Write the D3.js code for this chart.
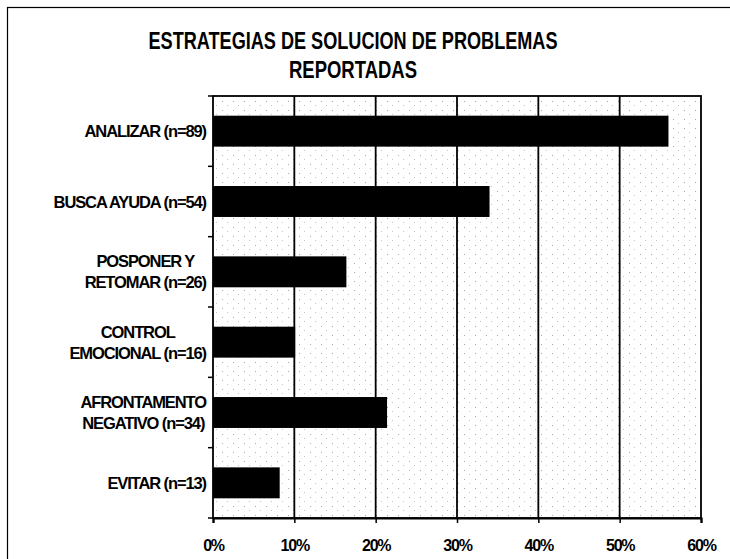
<!DOCTYPE html>
<html>
<head>
<meta charset="utf-8">
<script src="https://cdn.jsdelivr.net/npm/d3@7"></script>
<style>
  body { margin: 0; background: #fff; }
  svg text { font-family: "Liberation Sans", Arial, sans-serif; font-weight: bold; fill: #000; }
</style>
</head>
<body>
<svg id="chart"></svg>
<script>
var width = 730;
var height = 559;

// data (percent of respondents, n = 159)
var categories = [
  ["ANALIZAR (n=89)"],
  ["BUSCA AYUDA (n=54)"],
  ["POSPONER Y", "RETOMAR (n=26)"],
  ["CONTROL", "EMOCIONAL (n=16)"],
  ["AFRONTAMENTO", "NEGATIVO (n=34)"],
  ["EVITAR (n=13)"]
];
var values = [56.0, 34.0, 16.4, 10.1, 21.4, 8.2];
var xTicks = [0, 10, 20, 30, 40, 50, 60];
var titleLines = ["ESTRATEGIAS DE SOLUCION DE PROBLEMAS", "REPORTADAS"];
var titleWidths = [409, 128];

var margin = { top: 96, right: 29, bottom: 41, left: 213 };

var svg = d3.select("#chart")
  .attr("width", width)
  .attr("height", height);

// sparse dotted background like the scanned halftone
var defs = svg.append("defs");
var pat = defs.append("pattern")
  .attr("id", "dots")
  .attr("patternUnits", "userSpaceOnUse")
  .attr("width", 11)
  .attr("height", 9);
pat.append("rect").attr("width", 11).attr("height", 9).attr("fill", "#fff");
pat.append("rect").attr("x", 2).attr("y", 2).attr("width", 1).attr("height", 1).attr("fill", "#a8a8a8");
pat.append("rect").attr("x", 7).attr("y", 6).attr("width", 1).attr("height", 1).attr("fill", "#c4c4c4");

// chart frame (only top & left visible in the scan)
svg.append("rect")
  .attr("x", 7.5).attr("y", 7.5)
  .attr("width", width + 20).attr("height", height + 20)
  .attr("fill", "none")
  .attr("stroke", "#000")
  .attr("stroke-width", 1.2);

svg.append("g").selectAll("text")
  .data(titleLines)
  .enter().append("text")
  .attr("x", 353)
  .attr("y", function (d, i) { return 49 + i * 29; })
  .attr("text-anchor", "middle")
  .attr("font-size", 23)
  .attr("textLength", function (d, i) { return titleWidths[i]; })
  .attr("lengthAdjust", "spacingAndGlyphs")
  .text(function (d) { return d; });

var x = d3.scaleLinear()
  .domain([0, 60])
  .range([margin.left, width - margin.right]);

var y = d3.scaleBand()
  .domain(d3.range(categories.length))
  .range([margin.top, height - margin.bottom])
  .paddingInner(0.56)
  .paddingOuter(0.28);

var plotTop = margin.top, plotBottom = height - margin.bottom;

svg.append("rect")
  .attr("x", x(0)).attr("y", plotTop)
  .attr("width", x(60) - x(0)).attr("height", plotBottom - plotTop)
  .attr("fill", "url(#dots)");

// gridlines
svg.append("g")
  .selectAll("line")
  .data(xTicks.slice(1, -1))
  .enter().append("line")
  .attr("x1", function (d) { return x(d); })
  .attr("x2", function (d) { return x(d); })
  .attr("y1", plotTop)
  .attr("y2", plotBottom)
  .attr("stroke", "#000")
  .attr("stroke-width", 1.8);

// bars
svg.append("g")
  .selectAll("rect")
  .data(values)
  .enter().append("rect")
  .attr("x", x(0))
  .attr("y", function (d, i) { return y(i); })
  .attr("width", function (d) { return x(d) - x(0); })
  .attr("height", y.bandwidth())
  .attr("fill", "#000");

// plot border
svg.append("rect")
  .attr("x", x(0)).attr("y", plotTop)
  .attr("width", x(60) - x(0)).attr("height", plotBottom - plotTop)
  .attr("fill", "none")
  .attr("stroke", "#000")
  .attr("stroke-width", 1.8);

// x axis
var xAxis = d3.axisBottom(x)
  .tickValues(xTicks)
  .tickSize(5)
  .tickPadding(17)
  .tickFormat(function (d) { return d + "%"; });

var gx = svg.append("g")
  .attr("transform", "translate(0," + plotBottom + ")")
  .call(xAxis);
gx.select(".domain").attr("stroke-width", 2.2);
gx.selectAll(".tick line").attr("stroke-width", 1.5);
gx.selectAll(".tick text")
  .attr("font-size", 16)
  .attr("letter-spacing", -1.2)
  .attr("font-family", "Liberation Sans, Arial, sans-serif")
  .attr("font-weight", "bold");

// y ticks at the band boundaries
var boundaries = d3.range(categories.length + 1).map(function (i) {
  return plotTop + i * (plotBottom - plotTop) / categories.length;
});
svg.append("g")
  .selectAll("line")
  .data(boundaries)
  .enter().append("line")
  .attr("x1", x(0) - 5)
  .attr("x2", x(0))
  .attr("y1", function (d) { return d; })
  .attr("y2", function (d) { return d; })
  .attr("stroke", "#000")
  .attr("stroke-width", 1.5);

// category labels, wrapped lines centred in a right-aligned block
var labelRight = 206;
var lineH = 21;
var labels = svg.append("g");
categories.forEach(function (lines, i) {
  var cy = y(i) + y.bandwidth() / 2;
  var g = labels.append("g");
  var texts = g.selectAll("text")
    .data(lines)
    .enter().append("text")
    .attr("font-size", 16.5)
    .attr("letter-spacing", -1.1)
    .attr("text-anchor", "middle")
    .attr("y", function (d, j) { return cy + 6 + (j - (lines.length - 1) / 2) * lineH; })
    .text(function (d) { return d; });
  var maxW = d3.max(texts.nodes(), function (n) { return n.getComputedTextLength(); });
  texts.attr("x", labelRight - maxW / 2);
});
</script>
</body>
</html>
